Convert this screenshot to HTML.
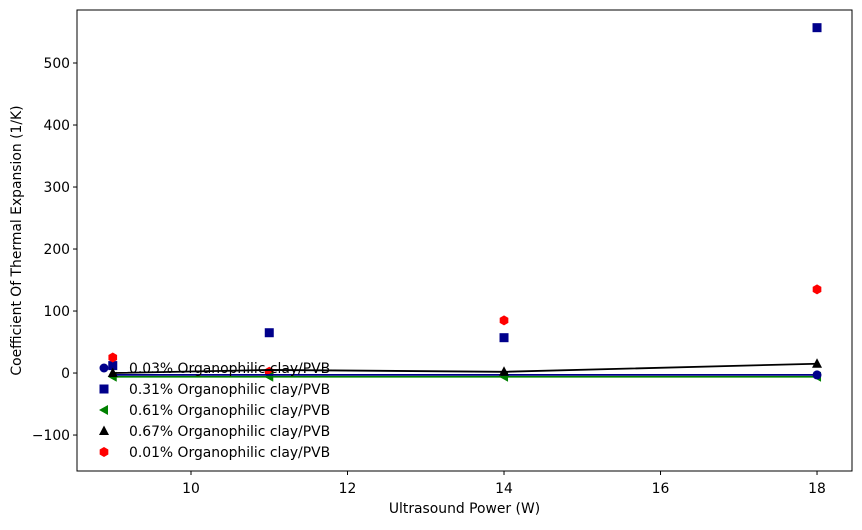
<!DOCTYPE html>
<html><head><meta charset="utf-8"><style>
body{margin:0;background:#fff;}
svg text{font-family:"DejaVu Sans","Liberation Sans",sans-serif;}
</style></head><body>
<svg id="chart" width="862" height="525" xmlns="http://www.w3.org/2000/svg"></svg>
<script>
const xVals=[9,11,14,18];
const blackY=[0,5,2,15];
const blueY=[-3,-3,-3,-3];
const greenY=[-6,-6,-6,-6];
const squareY=[12,65,57,557];
const redY=[25,2,85,135];
const xTicks=[10,12,14,16,18];
const yTicks=[-100,0,100,200,300,400,500];
const legendLabels=["0.03% Organophilic clay/PVB","0.31% Organophilic clay/PVB","0.61% Organophilic clay/PVB","0.67% Organophilic clay/PVB","0.01% Organophilic clay/PVB"];
const L=77,R=852,T=10,B=471;
const xMin=8.543,xMax=18.447,yMin=-158,yMax=585.5;
const FS=13.9;
const sx=v=>L+(v-xMin)/(xMax-xMin)*(R-L);
const sy=v=>B-(v-yMin)/(yMax-yMin)*(B-T);
const svg=document.getElementById('chart');
const NS='http://www.w3.org/2000/svg';
function mk(tag,attrs,parent){const e=document.createElementNS(NS,tag);for(const k in attrs)e.setAttribute(k,attrs[k]);(parent||svg).appendChild(e);return e;}
function marker(type,x,y,color,g){
  if(type==='circle')return mk('circle',{cx:x,cy:y,r:4.5,fill:color},g);
  if(type==='square')return mk('rect',{x:x-4.5,y:y-4.5,width:9,height:9,fill:color},g);
  if(type==='tleft')return mk('polygon',{points:`${x-5},${y} ${x+4},${y-5} ${x+4},${y+5}`,fill:color},g);
  if(type==='tup')return mk('polygon',{points:`${x},${y-5.5} ${x-5},${y+4} ${x+5},${y+4}`,fill:color},g);
  if(type==='hex'){let p=[];for(let i=0;i<6;i++){const a=Math.PI/3*i+Math.PI/6;p.push((x+5*Math.cos(a))+','+(y+5*Math.sin(a)));}return mk('polygon',{points:p.join(' '),fill:color},g);}
}
const frame=mk('rect',{x:L,y:T,width:R-L,height:B-T,fill:'none',stroke:'#000','stroke-width':1});

xTicks.forEach(t=>{const x=sx(t);mk('line',{x1:x,x2:x,y1:B,y2:B+4,stroke:'#000'});
 const tx=mk('text',{x:x,y:B+22,'text-anchor':'middle','font-size':FS});tx.textContent=t;
 });
yTicks.forEach(t=>{const y=sy(t);mk('line',{x1:L-4,x2:L,y1:y,y2:y,stroke:'#000'});
 const tx=mk('text',{x:L-7,y:y+5,'text-anchor':'end','font-size':FS});tx.textContent=t<0?'\u2212'+(-t):t;
 });
const xt=mk('text',{x:(L+R)/2,y:513,'text-anchor':'middle','font-size':FS});xt.textContent='Ultrasound Power (W)';

const yt=mk('text',{x:0,y:0,'text-anchor':'middle','font-size':FS,transform:`translate(21,${(T+B)/2}) rotate(-90)`});yt.textContent='Coefficient Of Thermal Expansion (1/K)';

function line(ys,color,name){const p=xVals.map((v,i)=>sx(v)+','+sy(ys[i])).join(' ');const e=mk('polyline',{points:p,fill:'none',stroke:color,'stroke-width':1.8});
 }
const gs=mk('g',{});
xVals.forEach((v,i)=>marker('square',sx(v),sy(squareY[i]),'#00008b',gs));
const gr=mk('g',{});
xVals.forEach((v,i)=>marker('hex',sx(v),sy(redY[i]),'#ff0000',gr));
line(greenY,'#008000','line-0.61');
const gg=mk('g',{});
xVals.forEach((v,i)=>marker('tleft',sx(v),sy(greenY[i]),'#008000',gg));
line(blueY,'#00008b','line-0.03');
const gb=mk('g',{});
marker('circle',sx(18),sy(blueY[3]),'#00008b',gb);
line(blackY,'#000','line-0.67');
const gk=mk('g',{});
[0,2,3].forEach(i=>marker('tup',sx(xVals[i]),sy(blackY[i]),'#000',gk));
const types=['circle','square','tleft','tup','hex'];const cols=['#00008b','#00008b','#008000','#000','#ff0000'];
legendLabels.forEach((lab,i)=>{const y=368+i*21;const g=mk('g',{});
 
 marker(types[i],104,y,cols[i],g);const t=mk('text',{x:129,y:y+5,'font-size':FS},g);t.textContent=lab;});
</script>
</body></html>
